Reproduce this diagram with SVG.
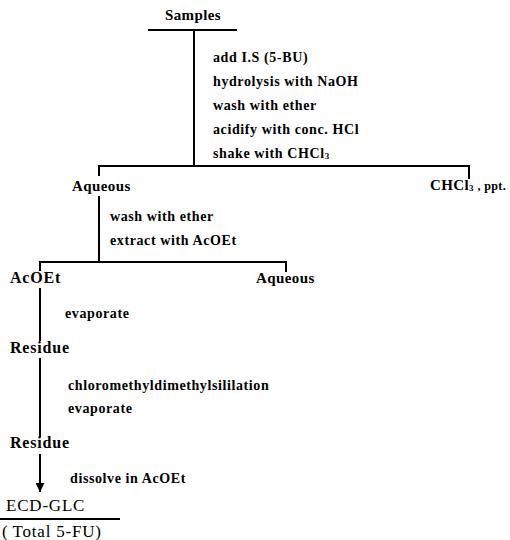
<svg xmlns="http://www.w3.org/2000/svg" width="510" height="540" viewBox="0 0 510 540">
<style>
.t{font-family:"Liberation Serif","Times New Roman",serif;font-weight:bold;font-size:14px;fill:#000;letter-spacing:0.6px}
.n{font-family:"Liberation Serif","Times New Roman",serif;font-weight:bold;font-size:15px;fill:#000;letter-spacing:0.4px}
.b{font-family:"Liberation Serif","Times New Roman",serif;font-weight:bold;font-size:16px;fill:#000;letter-spacing:0.8px}
.r{font-family:"Liberation Serif","Times New Roman",serif;font-size:17px;fill:#000;letter-spacing:0.8px}
.l{stroke:#000;stroke-width:2;fill:none}
</style>
<defs>
<marker id="ah" viewBox="0 0 10 10" refX="10" refY="5" markerWidth="14" markerHeight="9" markerUnits="userSpaceOnUse" orient="auto">
<path d="M0,0 L10,5 L0,10 z" fill="#000"/>
</marker>
</defs>
<g id="connectors">
<line class="l" x1="148" y1="30" x2="237" y2="30"/>
<line class="l" x1="194" y1="30" x2="194" y2="166"/>
<polyline class="l" points="99,176 99,166 469,166 469,179"/>
<line class="l" x1="99" y1="196" x2="99" y2="262"/>
<polyline class="l" points="40,271 40,262 286,262 286,272"/>
<line class="l" x1="40" y1="288" x2="40" y2="341"/>
<line class="l" x1="40" y1="358" x2="40" y2="437"/>
<line class="l" x1="40" y1="454" x2="40" y2="492" marker-end="url(#ah)"/>
<line class="l" x1="0" y1="519" x2="120" y2="519"/>
</g>
<g id="samples"><text class="n" x="193" y="20" text-anchor="middle">Samples</text></g>
<g id="step1">
<text class="t" x="213" y="62">add I.S (5-BU)</text>
<text class="t" x="213" y="86">hydrolysis with NaOH</text>
<text class="t" x="213" y="110">wash with ether</text>
<text class="t" x="213" y="134">acidify with conc. HCl</text>
<text class="t" x="213" y="158">shake with CHCl<tspan font-size="9" dy="1">3</tspan></text>
</g>
<g id="aqueous1"><text class="n" x="72" y="191">Aqueous</text></g>
<g id="chcl3"><text class="n" x="430" y="190" letter-spacing="0">CHCl<tspan font-size="9" dy="1">3</tspan><tspan font-size="12" dy="-1"> , ppt.</tspan></text></g>
<g id="step2">
<text class="t" x="110" y="221">wash with ether</text>
<text class="t" x="110" y="245">extract with AcOEt</text>
</g>
<g id="acoet"><text class="b" x="10" y="283">AcOEt</text></g>
<g id="aqueous2"><text class="n" x="256" y="283">Aqueous</text></g>
<g id="step3"><text class="t" x="65" y="318">evaporate</text></g>
<g id="residue1"><text class="b" x="10" y="353">Residue</text></g>
<g id="step4">
<text class="t" x="68" y="390">chloromethyldimethylsililation</text>
<text class="t" x="68" y="413">evaporate</text>
</g>
<g id="residue2"><text class="b" x="10" y="448">Residue</text></g>
<g id="step5"><text class="t" x="70" y="483">dissolve in AcOEt</text></g>
<g id="ecdglc">
<text class="r" x="6" y="511">ECD-GLC</text>
<text class="r" x="2" y="537">(<tspan dx="4">Total 5-FU)</tspan></text>
</g>
</svg>
